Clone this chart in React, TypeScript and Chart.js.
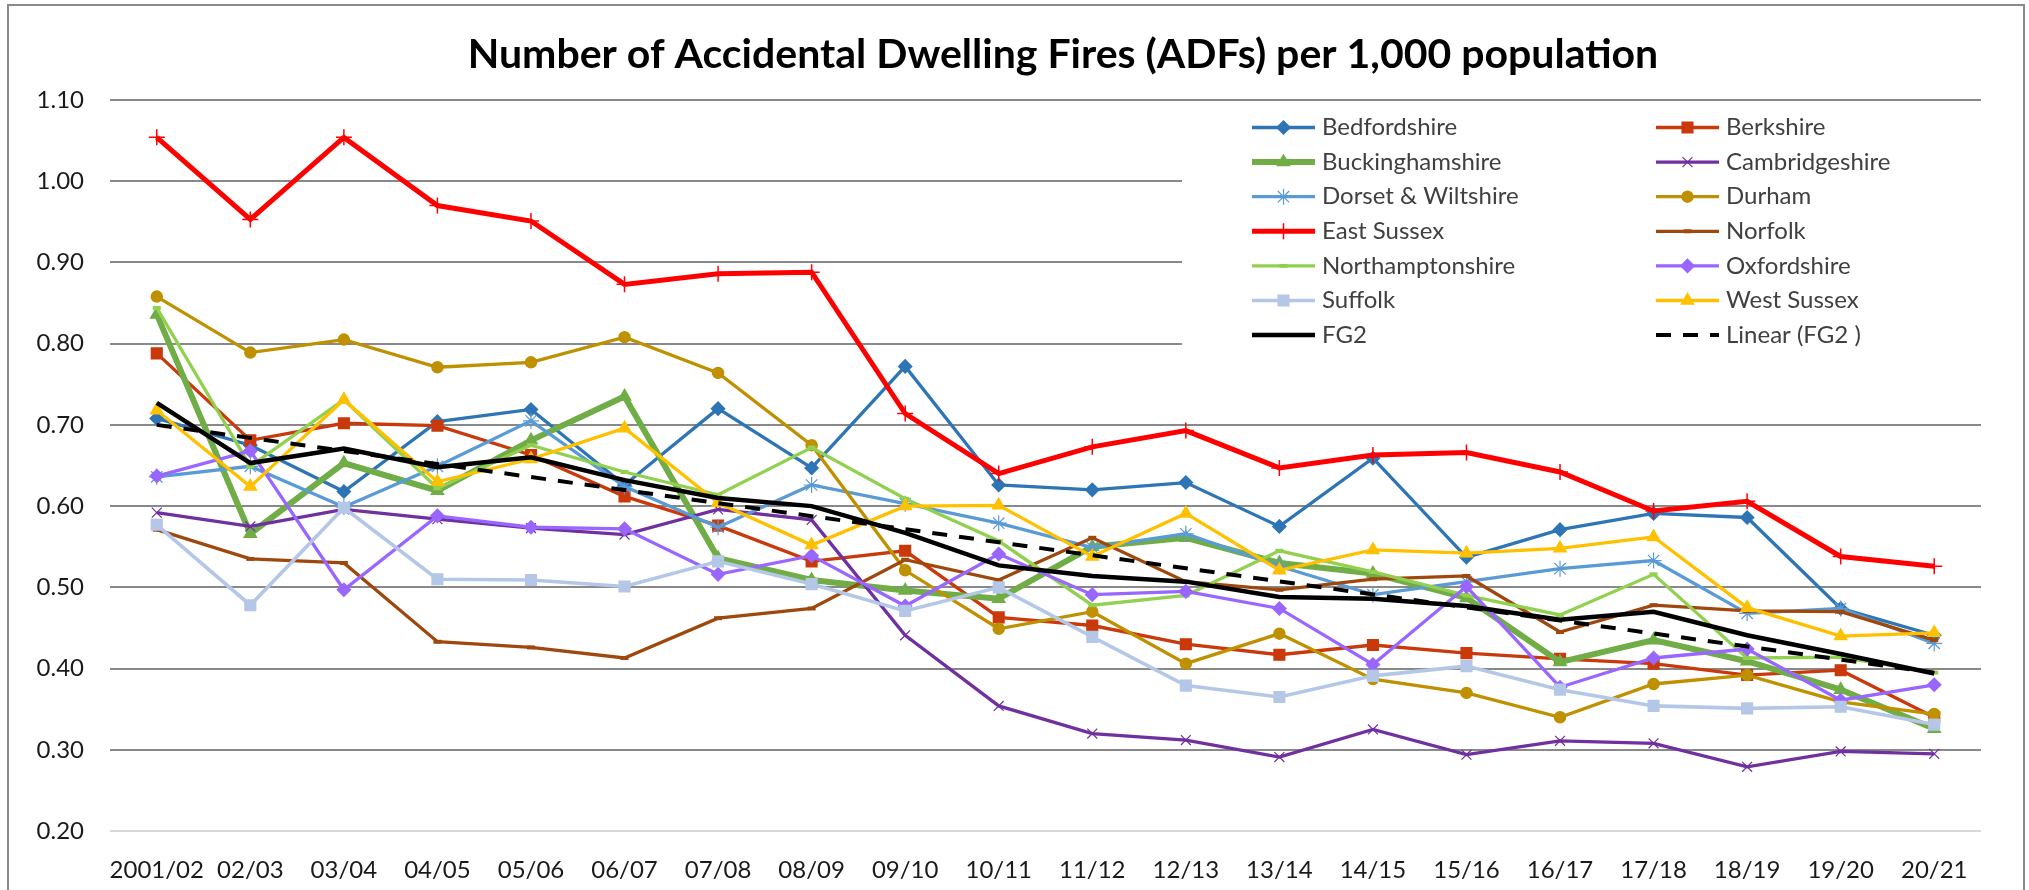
import React, { useEffect, useRef } from 'react';
import { Chart, registerables } from 'chart.js';
import { drawPoint } from 'chart.js/helpers';

Chart.register(...registerables);

const TITLE = 'Number of Accidental Dwelling Fires (ADFs) per 1,000 population';

const categories = ['2001/02', '02/03', '03/04', '04/05', '05/06', '06/07', '07/08', '08/09', '09/10', '10/11',
  '11/12', '12/13', '13/14', '14/15', '15/16', '16/17', '17/18', '18/19', '19/20', '20/21'];

const bedfordshire = [0.708, 0.675, 0.618, 0.704, 0.719, 0.626, 0.720, 0.647, 0.772, 0.626, 0.620, 0.629, 0.575, 0.659, 0.537, 0.571, 0.591, 0.586, 0.474, 0.441];
const berkshire = [0.788, 0.681, 0.702, 0.699, 0.663, 0.612, 0.576, 0.532, 0.545, 0.463, 0.453, 0.430, 0.417, 0.429, 0.419, 0.412, 0.406, 0.392, 0.398, 0.340];
const buckinghamshire = [0.836, 0.566, 0.653, 0.619, 0.681, 0.735, 0.536, 0.509, 0.496, 0.486, 0.550, 0.561, 0.530, 0.517, 0.487, 0.408, 0.435, 0.409, 0.374, 0.326];
const cambridgeshire = [0.592, 0.575, 0.596, 0.584, 0.573, 0.565, 0.596, 0.583, 0.441, 0.354, 0.320, 0.312, 0.291, 0.325, 0.294, 0.311, 0.308, 0.279, 0.298, 0.295];
const dorsetWiltshire = [0.636, 0.649, 0.599, 0.649, 0.705, 0.624, 0.574, 0.626, 0.603, 0.579, 0.549, 0.566, 0.526, 0.491, 0.507, 0.523, 0.533, 0.468, 0.474, 0.431];
const durham = [0.858, 0.789, 0.805, 0.771, 0.777, 0.808, 0.764, 0.675, 0.521, 0.449, 0.470, 0.406, 0.443, 0.387, 0.370, 0.340, 0.381, 0.392, 0.359, 0.344];
const eastSussex = [1.054, 0.953, 1.054, 0.970, 0.951, 0.873, 0.886, 0.888, 0.714, 0.640, 0.673, 0.693, 0.647, 0.663, 0.666, 0.642, 0.594, 0.606, 0.538, 0.526];
const norfolk = [0.571, 0.535, 0.530, 0.433, 0.426, 0.413, 0.462, 0.474, 0.534, 0.509, 0.561, 0.507, 0.497, 0.510, 0.514, 0.445, 0.478, 0.471, 0.470, 0.435];
const northamptonshire = [0.844, 0.649, 0.731, 0.622, 0.675, 0.642, 0.614, 0.672, 0.609, 0.557, 0.478, 0.490, 0.545, 0.519, 0.490, 0.466, 0.516, 0.413, 0.414, 0.395];
const oxfordshire = [0.637, 0.668, 0.497, 0.588, 0.574, 0.572, 0.516, 0.539, 0.477, 0.541, 0.491, 0.495, 0.474, 0.405, 0.501, 0.377, 0.413, 0.424, 0.361, 0.380];
const suffolk = [0.577, 0.478, 0.598, 0.510, 0.509, 0.501, 0.532, 0.504, 0.471, 0.500, 0.439, 0.379, 0.365, 0.391, 0.403, 0.374, 0.354, 0.351, 0.353, 0.331];
const westSussex = [0.718, 0.624, 0.731, 0.630, 0.658, 0.696, 0.604, 0.552, 0.600, 0.601, 0.538, 0.591, 0.521, 0.546, 0.542, 0.548, 0.562, 0.475, 0.440, 0.444];
const fg2 = [0.727, 0.653, 0.671, 0.648, 0.660, 0.632, 0.610, 0.600, 0.567, 0.527, 0.514, 0.507, 0.488, 0.486, 0.477, 0.460, 0.470, 0.441, 0.418, 0.394];
// Linear (FG2) trendline, end values
const trendStart = 0.700;
const trendEnd = 0.395;

const yMin = 0.2;
const yMax = 1.1;
const yStep = 0.1;

type SeriesDef = {
  label: string;
  data: (number | null)[];
  color: string;
  width: number;
  style: any;
  radius: number;
  pw?: number;
  dash?: number[];
};

const series: SeriesDef[] = [
  { label: 'Bedfordshire', data: bedfordshire, color: '#2E75B6', width: 3.3, style: 'rectRot', radius: 6.5 },
  { label: 'Berkshire', data: berkshire, color: '#C9390B', width: 3.3, style: 'rect', radius: 7.5 },
  { label: 'Buckinghamshire', data: buckinghamshire, color: '#70AD47', width: 6, style: 'triangle', radius: 7 },
  { label: 'Cambridgeshire', data: cambridgeshire, color: '#7030A0', width: 3.3, style: 'crossRot', radius: 7, pw: 1.2 },
  { label: 'Dorset & Wiltshire', data: dorsetWiltshire, color: '#5B9BD5', width: 3.3, style: 'star', radius: 8, pw: 1.2 },
  { label: 'Durham', data: durham, color: '#BF9000', width: 3.3, style: 'circle', radius: 5.5 },
  { label: 'East Sussex', data: eastSussex, color: '#FF0000', width: 5, style: 'cross', radius: 8, pw: 1.5 },
  { label: 'Norfolk', data: norfolk, color: '#9E480E', width: 3.3, style: 'line', radius: 4, pw: 4 },
  { label: 'Northamptonshire', data: northamptonshire, color: '#92D050', width: 3.3, style: 'line', radius: 4, pw: 4 },
  { label: 'Oxfordshire', data: oxfordshire, color: '#9966FF', width: 3.3, style: 'rectRot', radius: 6.5 },
  { label: 'Suffolk', data: suffolk, color: '#B4C7E7', width: 3.6, style: 'rect', radius: 7.5 },
  { label: 'West Sussex', data: westSussex, color: '#FFC000', width: 3.3, style: 'triangle', radius: 7 },
  { label: 'FG2', data: fg2, color: '#000000', width: 4.5, style: false, radius: 0 },
  {
    label: 'Linear (FG2 )',
    data: categories.map((_, i) => (i === 0 ? trendStart : i === categories.length - 1 ? trendEnd : null)),
    color: '#000000', width: 4, style: false, radius: 0, dash: [15, 12],
  },
];

const FONT = 'Lato, "Open Sans", "Liberation Sans", sans-serif';

const overlayPlugin = {
  id: 'overlay',
  beforeDatasetsDraw(chart: any) {
    const { ctx, chartArea } = chart;
    ctx.save();
    ctx.fillStyle = '#ffffff';
    ctx.fillRect(1182, 104, chartArea.right + 4 - 1182, 416 - 104);
    ctx.restore();
  },
  afterDraw(chart: any) {
    const { ctx } = chart;
    ctx.save();
    // title
    ctx.fillStyle = '#000000';
    ctx.font = 'bold 41px ' + FONT;
    ctx.textAlign = 'center';
    ctx.textBaseline = 'middle';
    ctx.fillText(TITLE, 1063, 55);

    // legend
    const rowH = 34.6;
    chart.data.datasets.forEach((ds: any, i: number) => {
      const col = i % 2;
      const row = Math.floor(i / 2);
      const x0 = col === 0 ? 1252 : 1656;
      const y = 127.5 + row * rowH;
      const x1 = x0 + 63;
      ctx.save();
      ctx.strokeStyle = ds.borderColor;
      ctx.lineWidth = ds.borderWidth;
      ctx.lineCap = 'butt';
      ctx.setLineDash(ds.borderDash || []);
      ctx.beginPath();
      ctx.moveTo(x0, y);
      ctx.lineTo(x1, y);
      ctx.stroke();
      ctx.setLineDash([]);
      if (ds.pointStyle && ds.pointRadius > 0) {
        ctx.fillStyle = ds.pointBackgroundColor;
        ctx.strokeStyle = ds.pointBorderColor;
        ctx.lineWidth = ds.pointBorderWidth;
        drawPoint(ctx, { pointStyle: ds.pointStyle, radius: ds.pointRadius, rotation: 0, borderWidth: ds.pointBorderWidth } as any, (x0 + x1) / 2, y);
      }
      ctx.restore();
      ctx.fillStyle = '#404040';
      ctx.font = '24px ' + FONT;
      ctx.textAlign = 'left';
      ctx.textBaseline = 'middle';
      ctx.fillText(ds.label, x0 + 70, y);
    });
    ctx.restore();
  },
};

export default function App() {
  const canvasRef = useRef<HTMLCanvasElement | null>(null);

  useEffect(() => {
    if (!canvasRef.current) return;
    const n = series.length;
    const chart = new Chart(canvasRef.current, {
      type: 'line',
      data: {
        labels: categories,
        datasets: series.map((s, i) => ({
          label: s.label,
          data: s.data,
          borderColor: s.color,
          backgroundColor: s.color,
          borderWidth: s.width,
          borderDash: s.dash || [],
          pointStyle: s.style,
          pointRadius: s.radius,
          pointHoverRadius: s.radius,
          pointBackgroundColor: s.color,
          pointBorderColor: s.color,
          pointBorderWidth: s.pw ?? 1.5,
          tension: 0,
          fill: false,
          spanGaps: true,
          order: n - 1 - i,
        })),
      },
      options: {
        responsive: false,
        animation: false,
        devicePixelRatio: 1,
        layout: { padding: { left: 0, right: 48, top: 100, bottom: 0 } },
        plugins: {
          legend: { display: false },
          title: { display: false },
          tooltip: { enabled: false },
        },
        scales: {
          x: {
            type: 'category',
            offset: true,
            grid: { display: false, drawTicks: false },
            border: { display: false },
            ticks: {
              color: '#1a1a1a',
              font: { family: FONT, size: 24 },
              padding: 25,
              maxRotation: 0,
              autoSkip: false,
            },
            afterFit: (s: any) => { s.height = 59; },
          },
          y: {
            min: yMin,
            max: yMax,
            grid: {
              drawTicks: false,
              lineWidth: 2,
              color: (c: any) => (c.tick && c.tick.value < yMin + 0.001 ? '#D9D9D9' : '#898989'),
            },
            border: { display: false },
            ticks: {
              stepSize: yStep,
              color: '#1a1a1a',
              font: { family: FONT, size: 24 },
              padding: 26,
              callback: (v: any) => Number(v).toFixed(2),
            },
            afterFit: (s: any) => { s.width = 110; },
          },
        },
      },
      plugins: [overlayPlugin],
    });
    return () => chart.destroy();
  }, []);

  return (
    <div style={{ position: 'fixed', left: 0, top: 0, width: 2029, height: 890, overflow: 'hidden', background: '#ffffff' }}>
      <div style={{ position: 'absolute', left: 7, top: 4, width: 2014, height: 1000, border: '2px solid #8a8a8a' }} />
      <canvas ref={canvasRef} width={2029} height={890} style={{ position: 'absolute', left: 0, top: 0, display: 'block' }} />
    </div>
  );
}
